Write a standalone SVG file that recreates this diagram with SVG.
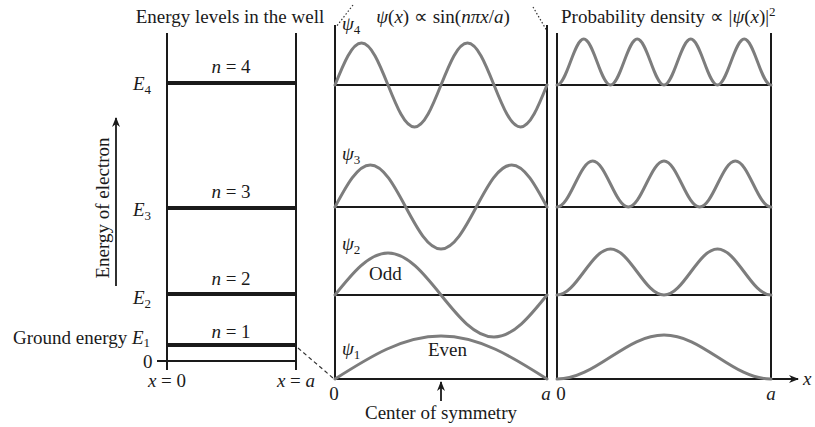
<svg xmlns="http://www.w3.org/2000/svg" width="815" height="427" viewBox="0 0 815 427">
<style>
text{font-family:"Liberation Serif","Times New Roman",serif;font-size:19px;fill:#1a1a1a}
.i{font-style:italic}
.sub{font-size:13px}
.wall{stroke:#1a1a1a;stroke-width:2;fill:none}
.lvl{stroke:#1a1a1a;stroke-width:4;fill:none}
.ax{stroke:#1a1a1a;stroke-width:1.8;fill:none}
.wave{stroke:#7d7d7d;stroke-width:3;fill:none;stroke-linecap:round}
.dash{stroke:#333;stroke-width:1.2;fill:none;stroke-dasharray:4 3}
.dot{stroke:#333;stroke-width:1.2;fill:none;stroke-dasharray:1.5 2}
</style>
<defs>
<marker id="ah" viewBox="0 0 10 10" refX="9" refY="5" markerWidth="10" markerHeight="10" markerUnits="userSpaceOnUse" orient="auto">
<path d="M0,1 L10,5 L0,9 L3,5 Z" fill="#1a1a1a"/>
</marker>
</defs>

<g id="titles">
<text x="230" y="23" text-anchor="middle">Energy levels in the well</text>
<text x="443" y="23" text-anchor="middle"><tspan class="i">ψ</tspan>(<tspan class="i">x</tspan>) ∝ sin(<tspan class="i">nπx</tspan>/<tspan class="i">a</tspan>)</text>
<text x="561" y="23">Probability density ∝ |<tspan class="i">ψ</tspan>(<tspan class="i">x</tspan>)|<tspan class="sub" dy="-7">2</tspan></text>
</g>

<g id="energy-axis">
<line x1="116" y1="286" x2="116" y2="118" class="ax" marker-end="url(#ah)"/>
<text transform="translate(109,208) rotate(-90)" text-anchor="middle">Energy of electron</text>
</g>

<g id="well">
<line x1="167" y1="33" x2="167" y2="370" class="wall"/>
<line x1="296" y1="33" x2="296" y2="370" class="wall"/>
<line x1="157" y1="361" x2="296" y2="361" class="wall"/>
<text x="143" y="368">0</text>
<text x="167" y="387" text-anchor="middle"><tspan class="i">x</tspan> = 0</text>
<text x="296" y="387" text-anchor="middle"><tspan class="i">x</tspan> = <tspan class="i">a</tspan></text>
</g>

<g id="level-4">
<line x1="167" y1="83" x2="296" y2="83" class="lvl"/>
<text x="231" y="73" text-anchor="middle"><tspan class="i">n</tspan> = 4</text>
<text x="133" y="90" class="i">E<tspan class="sub" dy="4" font-style="normal">4</tspan></text>
</g>
<g id="level-3">
<line x1="167" y1="208" x2="296" y2="208" class="lvl"/>
<text x="231" y="198" text-anchor="middle"><tspan class="i">n</tspan> = 3</text>
<text x="133" y="216" class="i">E<tspan class="sub" dy="4" font-style="normal">3</tspan></text>
</g>
<g id="level-2">
<line x1="167" y1="294" x2="296" y2="294" class="lvl"/>
<text x="231" y="285" text-anchor="middle"><tspan class="i">n</tspan> = 2</text>
<text x="133" y="304" class="i">E<tspan class="sub" dy="4" font-style="normal">2</tspan></text>
</g>
<g id="level-1">
<line x1="167" y1="345" x2="296" y2="345" class="lvl"/>
<text x="231" y="338" text-anchor="middle"><tspan class="i">n</tspan> = 1</text>
<text x="13" y="344">Ground energy <tspan class="i">E</tspan><tspan class="sub" dy="3">1</tspan></text>
</g>

<g id="connectors">
<line x1="353" y1="5" x2="336" y2="27" class="dot"/>
<line x1="533" y1="7" x2="547" y2="31" class="dot"/>
<line x1="298" y1="348" x2="333" y2="378" class="dash"/>
</g>

<g id="wavefunctions">
<line x1="335" y1="25" x2="335" y2="379" class="wall"/>
<line x1="547" y1="25" x2="547" y2="379" class="wall"/>
<line x1="335" y1="85" x2="547" y2="85" class="ax"/>
<line x1="335" y1="207" x2="547" y2="207" class="ax"/>
<line x1="335" y1="295" x2="547" y2="295" class="ax"/>
<line x1="335" y1="379" x2="547" y2="379" class="ax"/>
<path class="wave" d="M335,85 c8.643,-21.516 16.909,-42 26.5,-42 c9.591,0 17.857,20.484 26.5,42 c8.643,21.516 16.909,42 26.5,42 c9.591,0 17.857,-20.484 26.5,-42 c8.643,-21.516 16.909,-42 26.5,-42 c9.591,0 17.857,20.484 26.5,42 c8.643,21.516 16.909,42 26.5,42 c9.591,0 17.857,-20.484 26.5,-42"/>
<path class="wave" d="M335,207 c11.524,-21.516 22.546,-42 35.333,-42 c12.787,0 23.809,20.484 35.333,42 c11.524,21.516 22.546,42 35.333,42 c12.787,0 23.809,-20.484 35.333,-42 c11.524,-21.516 22.546,-42 35.333,-42 c12.787,0 23.809,20.484 35.333,42"/>
<path class="wave" d="M335,295 c17.285,-21.516 33.819,-42 53,-42 c19.181,0 35.715,20.484 53,42 c17.285,21.516 33.819,42 53,42 c19.181,0 35.715,-20.484 53,-42"/>
<path class="wave" d="M335,379 c34.571,-22.028 67.638,-43 106,-43 c38.362,0 71.429,20.972 106,43"/>
<text x="342" y="30" class="i">ψ<tspan class="sub" dy="4" font-style="normal">4</tspan></text>
<text x="342" y="160" class="i">ψ<tspan class="sub" dy="4" font-style="normal">3</tspan></text>
<text x="342" y="250" class="i">ψ<tspan class="sub" dy="4" font-style="normal">2</tspan></text>
<text x="342" y="355" class="i">ψ<tspan class="sub" dy="4" font-style="normal">1</tspan></text>
<text x="369" y="280">Odd</text>
<text x="428" y="356">Even</text>
<text x="334" y="400" text-anchor="middle">0</text>
<text x="546" y="400" text-anchor="middle" class="i">a</text>
<line x1="441" y1="401" x2="441" y2="382" class="ax" stroke-width="1.4" marker-end="url(#ah)"/>
<text x="441" y="419" text-anchor="middle">Center of symmetry</text>
</g>

<g id="probability">
<line x1="557" y1="33" x2="557" y2="379" class="wall"/>
<line x1="771" y1="33" x2="771" y2="379" class="wall"/>
<line x1="557" y1="85" x2="771" y2="85" class="ax"/>
<line x1="557" y1="207" x2="771" y2="207" class="ax"/>
<line x1="557" y1="295" x2="771" y2="295" class="ax"/>
<line x1="557" y1="379" x2="798" y2="379" class="ax" marker-end="url(#ah)"/>
<path class="wave" d="M557,85 c4.841,0 9.013,-11.217 13.375,-23 c4.362,-11.783 8.534,-23 13.375,-23 c4.841,0 9.013,11.217 13.375,23 c4.362,11.783 8.534,23 13.375,23 c4.841,0 9.013,-11.217 13.375,-23 c4.362,-11.783 8.534,-23 13.375,-23 c4.841,0 9.013,11.217 13.375,23 c4.362,11.783 8.534,23 13.375,23 c4.841,0 9.013,-11.217 13.375,-23 c4.362,-11.783 8.534,-23 13.375,-23 c4.841,0 9.013,11.217 13.375,23 c4.362,11.783 8.534,23 13.375,23 c4.841,0 9.013,-11.217 13.375,-23 c4.362,-11.783 8.534,-23 13.375,-23 c4.841,0 9.013,11.217 13.375,23 c4.362,11.783 8.534,23 13.375,23"/>
<path class="wave" d="M557,207 c6.454,0 12.017,-11.217 17.833,-23 c5.816,-11.783 11.379,-23 17.833,-23 c6.454,0 12.017,11.217 17.833,23 c5.816,11.783 11.379,23 17.833,23 c6.454,0 12.017,-11.217 17.833,-23 c5.816,-11.783 11.379,-23 17.833,-23 c6.454,0 12.017,11.217 17.833,23 c5.816,11.783 11.379,23 17.833,23 c6.454,0 12.017,-11.217 17.833,-23 c5.816,-11.783 11.379,-23 17.833,-23 c6.454,0 12.017,11.217 17.833,23 c5.816,11.783 11.379,23 17.833,23"/>
<path class="wave" d="M557,295 c9.681,0 18.026,-11.217 26.75,-23 c8.724,-11.783 17.069,-23 26.75,-23 c9.681,0 18.026,11.217 26.75,23 c8.724,11.783 17.069,23 26.75,23 c9.681,0 18.026,-11.217 26.75,-23 c8.724,-11.783 17.069,-23 26.75,-23 c9.681,0 18.026,11.217 26.75,23 c8.724,11.783 17.069,23 26.75,23"/>
<path class="wave" d="M557,379 c19.362,0 36.051,-10.73 53.5,-22 c17.449,-11.27 34.138,-22 53.5,-22 c19.362,0 36.051,10.73 53.5,22 c17.449,11.27 34.138,22 53.5,22"/>
<text x="561" y="400" text-anchor="middle">0</text>
<text x="771" y="400" text-anchor="middle" class="i">a</text>
<text x="803" y="385" class="i">x</text>
</g>
</svg>
